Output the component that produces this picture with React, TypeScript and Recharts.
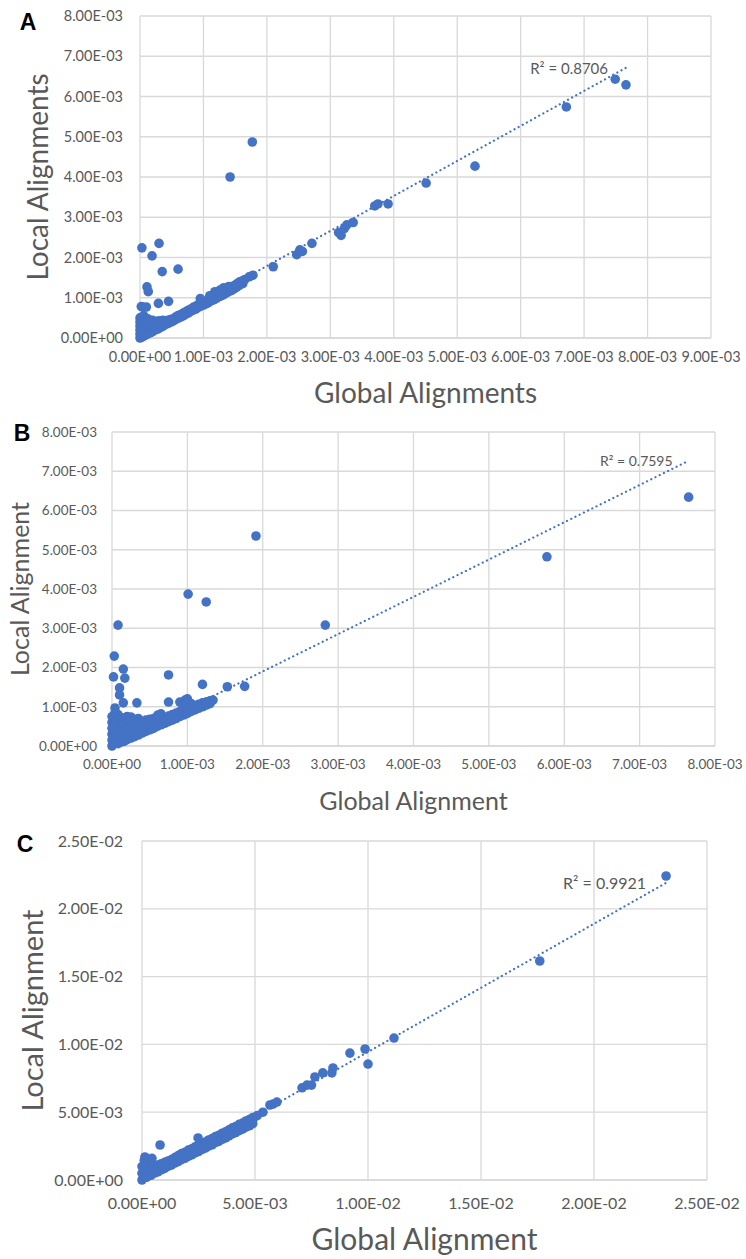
import React from 'react';
import {
  ScatterChart,
  Scatter,
  XAxis,
  YAxis,
  CartesianGrid,
  ReferenceLine,
  ReferenceDot,
  Label,
} from 'recharts';

// All values below are stored in units of 1e-3 and scaled when the chart table is built.
const MILLI = 1e-3;
const BLUE = '#4472C4';
const GRID = '#D9D9D9';
const INK = '#595959';
const FONT = 'Lato, "Open Sans", sans-serif';

type Pt = [number, number];

// ---------- Panel A ----------
const xTicksA = [0, 1, 2, 3, 4, 5, 6, 7, 8, 9];
const yTicksA = [0, 1, 2, 3, 4, 5, 6, 7, 8];
const clusterA: Pt[] = [
  [0, 0], [0, 0.1], [0, 0.2], [0, 0.3], [0, 0.4], [0, 0.5],
  [0.03, 0.02], [0.03, 0.12], [0.03, 0.22], [0.03, 0.32], [0.03, 0.42], [0.03, 0.52],
  [0.06, 0.05], [0.06, 0.15], [0.06, 0.25], [0.06, 0.35], [0.06, 0.45], [0.06, 0.55],
  [0.09, 0.08], [0.09, 0.18], [0.09, 0.28], [0.09, 0.38], [0.09, 0.48],
  [0.12, 0.1], [0.12, 0.2], [0.12, 0.3], [0.12, 0.4], [0.12, 0.48],
  [0.16, 0.13], [0.16, 0.23], [0.16, 0.33], [0.16, 0.42],
  [0.2, 0.16], [0.2, 0.26], [0.2, 0.36], [0.2, 0.44],
  [0.24, 0.2], [0.24, 0.3], [0.24, 0.4],
  [0.28, 0.22], [0.28, 0.32], [0.28, 0.42],
  [0.32, 0.26], [0.32, 0.35], [0.32, 0.43],
  [0.36, 0.29], [0.36, 0.38], [0.36, 0.44],
  [0.4, 0.33], [0.4, 0.42],
  [0.44, 0.36], [0.44, 0.44],
  [0.48, 0.39], [0.48, 0.46],
  [0.52, 0.42], [0.52, 0.48],
  [0.56, 0.46], [0.56, 0.52],
  [0.6, 0.49], [0.6, 0.56],
  [0.64, 0.52], [0.64, 0.58],
  [0.68, 0.55], [0.68, 0.62],
  [0.72, 0.59], [0.72, 0.65],
  [0.76, 0.62], [0.76, 0.69],
  [0.8, 0.66], [0.8, 0.72],
  [0.84, 0.69], [0.84, 0.76],
  [0.88, 0.72], [0.88, 0.79],
  [0.92, 0.76], [0.92, 0.83],
  [0.96, 0.79], [0.96, 0.86],
  [1.0, 0.82], [1.0, 0.9],
  [1.04, 0.85], [1.04, 0.92],
  [1.08, 0.88], [1.08, 0.96],
  [1.12, 0.92], [1.12, 1.0],
  [1.16, 0.95], [1.16, 1.04],
  [1.2, 0.98], [1.2, 1.07],
  [1.24, 1.02], [1.24, 1.12],
  [1.28, 1.05], [1.28, 1.14],
  [1.32, 1.08], [1.32, 1.18],
  [1.36, 1.12], [1.36, 1.2],
  [1.4, 1.15], [1.4, 1.24],
  [1.44, 1.18], [1.44, 1.27],
  [1.48, 1.22], [1.48, 1.3],
  [1.52, 1.26], [1.52, 1.34],
  [1.56, 1.3], [1.56, 1.38],
  [1.62, 1.35], [1.62, 1.42],
];
const diagonalA: Pt[] = [
  [0.95, 0.98], [1.1, 1.05], [1.18, 1.15], [1.26, 1.19], [1.32, 1.25], [1.4, 1.28],
  [1.45, 1.22], [1.58, 1.4], [1.65, 1.45], [1.72, 1.52], [1.78, 1.56], [2.1, 1.77],
  [2.47, 2.07], [2.52, 2.19], [2.56, 2.15], [2.71, 2.35], [3.13, 2.62], [3.17, 2.55],
  [3.22, 2.72], [3.26, 2.81], [3.36, 2.87], [3.7, 3.28], [3.75, 3.33], [3.91, 3.33],
  [4.51, 3.85], [5.28, 4.27], [6.72, 5.74], [7.49, 6.43], [7.66, 6.29],
];
const outliersA: Pt[] = [
  [1.42, 4.0], [1.77, 4.87], [0.03, 2.24], [0.3, 2.35], [0.19, 2.04], [0.35, 1.65],
  [0.6, 1.71], [0.11, 1.27], [0.13, 1.15], [0.29, 0.86], [0.45, 0.91], [0.02, 0.78],
  [0.06, 0.76], [0.1, 0.77],
];
const trendA = { slope: 0.87, intercept: 0.05 };
const r2A = 'R² = 0.8706';

// ---------- Panel B ----------
const xTicksB = [0, 1, 2, 3, 4, 5, 6, 7, 8];
const yTicksB = [0, 1, 2, 3, 4, 5, 6, 7, 8];
const clusterB: Pt[] = [
  [0, 0], [0, 0.15], [0, 0.3], [0, 0.45], [0, 0.6], [0, 0.75],
  [0.04, 0.08], [0.04, 0.22], [0.04, 0.38], [0.04, 0.52], [0.04, 0.68], [0.04, 0.85],
  [0.08, 0.06], [0.08, 0.2], [0.08, 0.35], [0.08, 0.5], [0.08, 0.65], [0.08, 0.8],
  [0.12, 0.1], [0.12, 0.25], [0.12, 0.4], [0.12, 0.55], [0.12, 0.7],
  [0.16, 0.12], [0.16, 0.27], [0.16, 0.42], [0.16, 0.57], [0.16, 0.72],
  [0.2, 0.16], [0.2, 0.3], [0.2, 0.45], [0.2, 0.6], [0.2, 0.75],
  [0.25, 0.2], [0.25, 0.35], [0.25, 0.5], [0.25, 0.65], [0.25, 0.74],
  [0.3, 0.24], [0.3, 0.39], [0.3, 0.54], [0.3, 0.68],
  [0.35, 0.28], [0.35, 0.43], [0.35, 0.58], [0.35, 0.7],
  [0.4, 0.33], [0.4, 0.48], [0.4, 0.62],
  [0.45, 0.37], [0.45, 0.52], [0.45, 0.66],
  [0.5, 0.41], [0.5, 0.56], [0.5, 0.68],
  [0.55, 0.45], [0.55, 0.6], [0.55, 0.7],
  [0.6, 0.5], [0.6, 0.63], [0.6, 0.75],
  [0.65, 0.54], [0.65, 0.68], [0.65, 0.82],
  [0.7, 0.58], [0.7, 0.72],
  [0.75, 0.62], [0.75, 0.76],
  [0.8, 0.66], [0.8, 0.8],
  [0.85, 0.7], [0.85, 0.84],
  [0.9, 0.75], [0.9, 0.88],
  [0.95, 0.79], [0.95, 0.92], [0.95, 1.02],
  [1.0, 0.83], [1.0, 0.96],
  [1.05, 0.88], [1.05, 1.0], [1.05, 1.08],
  [1.1, 0.92], [1.1, 1.03],
  [1.15, 0.96], [1.15, 1.06],
  [1.2, 1.0], [1.2, 1.1],
  [1.25, 1.04], [1.25, 1.12],
  [1.3, 1.08], [1.3, 1.15],
];
const diagonalB: Pt[] = [
  [0.75, 1.12], [0.9, 1.12], [0.97, 1.17], [1.0, 1.2], [1.13, 1.0], [1.2, 1.57],
  [1.26, 1.12], [1.34, 1.17], [1.53, 1.51], [1.76, 1.52], [2.83, 3.08], [5.77, 4.82],
  [7.65, 6.34],
];
const outliersB: Pt[] = [
  [1.01, 3.87], [1.25, 3.67], [1.91, 5.35], [0.08, 3.08], [0.03, 2.29], [0.02, 1.76],
  [0.15, 1.96], [0.17, 1.73], [0.1, 1.48], [0.1, 1.3], [0.75, 1.81], [0.33, 1.1],
  [0.15, 1.1], [0.04, 0.97], [0.61, 0.79],
];
const trendB = { slope: 0.95, intercept: 0 };
const r2B = 'R² = 0.7595';

// ---------- Panel C ----------
const xTicksC = [0, 5, 10, 15, 20, 25];
const yTicksC = [0, 5, 10, 15, 20, 25];
const clusterC: Pt[] = [
  [0, 0], [0, 0.5], [0, 1.0], [0.1, 0.35], [0.1, 0.85], [0.1, 1.45],
  [0.2, 0.2], [0.2, 0.7], [0.2, 1.2], [0.4, 0.35], [0.4, 0.9], [0.4, 1.4],
  [0.55, 0.5], [0.55, 1.0], [0.7, 0.6], [0.7, 1.1], [0.85, 0.75], [0.85, 1.2],
  [1.0, 0.85], [1.0, 1.3], [1.15, 1.0], [1.15, 1.4], [1.3, 1.1], [1.3, 1.5],
  [1.45, 1.25], [1.45, 1.65], [1.6, 1.35], [1.6, 1.8], [1.75, 1.5], [1.75, 1.95],
  [1.9, 1.6], [1.9, 2.05], [2.05, 1.75], [2.05, 2.2], [2.2, 1.85], [2.2, 2.3],
  [2.35, 2.0], [2.35, 2.45], [2.5, 2.1], [2.5, 2.55], [2.65, 2.25], [2.65, 2.7],
  [2.8, 2.35], [2.8, 2.8], [2.95, 2.5], [2.95, 2.95], [3.1, 2.6], [3.1, 3.05],
  [3.25, 2.75], [3.25, 3.2], [3.4, 2.85], [3.4, 3.3], [3.55, 3.0], [3.55, 3.45],
  [3.7, 3.1], [3.7, 3.55], [3.85, 3.25], [3.85, 3.7], [4.0, 3.4], [4.0, 3.85],
  [4.15, 3.5], [4.15, 3.95], [4.3, 3.65], [4.3, 4.1], [4.45, 3.75], [4.45, 4.2],
  [4.6, 3.9], [4.6, 4.35], [4.75, 4.0], [4.75, 4.45], [4.9, 4.15], [4.9, 4.6],
  [5.1, 4.75],
];
const diagonalC: Pt[] = [
  [4.9, 4.42], [5.35, 5.0], [5.66, 5.53], [5.8, 5.6], [5.97, 5.75], [7.08, 6.8], [7.3, 7.0],
  [7.5, 7.0], [7.65, 7.6], [8.0, 7.9], [8.4, 7.9], [8.45, 8.26], [9.2, 9.36], [9.87, 9.66],
  [10.0, 8.55], [11.15, 10.47], [17.6, 16.15], [23.19, 22.42],
];
const outliersC: Pt[] = [
  [0.8, 2.58], [2.48, 3.1], [0.13, 1.7], [0.44, 1.6],
];
const trendC = { slope: 0.945, intercept: 0 };
const r2C = 'R² = 0.9921';

// Excel-style scientific notation: 0.00E+00, 1.00E-03 ...
function sci(v: number): string {
  if (v === 0) return '0.00E+00';
  let exp = Math.floor(Math.log10(Math.abs(v)) + 1e-9);
  let mant = v / Math.pow(10, exp);
  if (Math.abs(mant) >= 9.995) {
    exp += 1;
    mant /= 10;
  }
  const sign = exp < 0 ? '-' : '+';
  return `${mant.toFixed(2)}E${sign}${String(Math.abs(exp)).padStart(2, '0')}`;
}

type PanelSpec = {
  letter: string;
  letterPos: [number, number];
  top: number;
  height: number;
  plot: { left: number; top: number; right: number; bottom: number };
  xTicks: number[];
  yTicks: number[];
  points: Pt[];
  trend: { slope: number; intercept: number };
  r2: string;
  r2Size: number;
  r2Gap: number;
  xTitle: string;
  yTitle: string;
  xTitleY: number;
  yTitleX: number;
  xTitleSize: number;
  yTitleSize: number;
  tickFont: number;
  yTickGap: number;
  xTickGap: number;
};

const Dot = (props: any) => {
  const { cx, cy } = props;
  if (cx == null || cy == null) return null;
  return <circle cx={cx} cy={cy} r={4.8} fill={BLUE} />;
};

function Panel({ s }: { s: PanelSpec }) {
  const data = s.points.map(([x, y]) => ({ x: x * MILLI, y: y * MILLI }));
  const xs = s.points.map((p) => p[0]);
  const x0 = Math.min(...xs);
  const x1 = Math.max(...xs);
  const seg = [
    { x: x0 * MILLI, y: (s.trend.slope * x0 + s.trend.intercept) * MILLI },
    { x: x1 * MILLI, y: (s.trend.slope * x1 + s.trend.intercept) * MILLI },
  ];
  const xT = s.xTicks.map((t) => t * MILLI);
  const yT = s.yTicks.map((t) => t * MILLI);
  const xMax = xT[xT.length - 1];
  const yMax = yT[yT.length - 1];
  const cxTitle = (s.plot.left + s.plot.right) / 2;
  const cyTitle = (s.plot.top + s.plot.bottom) / 2 - s.top;
  const tickStyle = { fill: INK, fontSize: s.tickFont, fontFamily: FONT };

  return (
    <div style={{ position: 'absolute', left: 0, top: s.top, width: 746, height: s.height }}>
      <ScatterChart
        width={746}
        height={s.height}
        margin={{ top: s.plot.top - s.top, right: 746 - s.plot.right, left: 0, bottom: 0 }}
      >
        <CartesianGrid stroke={GRID} strokeWidth={1.3} />
        <XAxis
          type="number"
          dataKey="x"
          domain={[0, xMax]}
          ticks={xT}
          interval={0}
          tickFormatter={sci}
          height={s.top + s.height - s.plot.bottom}
          axisLine={{ stroke: GRID, strokeWidth: 1.3 }}
          tickLine={false}
          tickSize={0}
          tickMargin={s.xTickGap}
          tick={tickStyle}
        >
          <Label
            content={() => (
              <text
                x={cxTitle}
                y={s.xTitleY - s.top}
                textAnchor="middle"
                dominantBaseline="central"
                fill={INK}
                fontSize={s.xTitleSize}
                fontFamily={FONT}
              >
                {s.xTitle}
              </text>
            )}
          />
        </XAxis>
        <YAxis
          type="number"
          dataKey="y"
          domain={[0, yMax]}
          ticks={yT}
          interval={0}
          tickFormatter={sci}
          width={s.plot.left}
          axisLine={false}
          tickLine={false}
          tickSize={0}
          tickMargin={s.yTickGap}
          tick={tickStyle}
        >
          <Label
            content={() => (
              <text
                x={s.yTitleX}
                y={cyTitle}
                transform={`rotate(-90 ${s.yTitleX} ${cyTitle})`}
                textAnchor="middle"
                dominantBaseline="central"
                fill={INK}
                fontSize={s.yTitleSize}
                fontFamily={FONT}
              >
                {s.yTitle}
              </text>
            )}
          />
        </YAxis>
        <Scatter data={data} fill={BLUE} shape={Dot} isAnimationActive={false} />
        <ReferenceLine
          segment={seg}
          stroke={BLUE}
          strokeWidth={2.2}
          strokeDasharray="0.1 4.6"
          strokeLinecap="round"
        />
        <ReferenceDot
          x={seg[1].x}
          y={seg[1].y}
          r={0}
          fill="none"
          stroke="none"
          label={{
            content: (p: any) => {
              const vb = p.viewBox || { x: 0, y: 0, width: 0, height: 0 };
              const x = vb.x + (vb.width || 0) / 2 - s.r2Gap;
              const y = vb.y + (vb.height || 0) / 2;
              return (
                <text
                  x={x}
                  y={y}
                  textAnchor="end"
                  dominantBaseline="central"
                  fill={INK}
                  fontSize={s.r2Size}
                  fontFamily={FONT}
                >
                  {s.r2}
                </text>
              );
            },
          }}
        />
      </ScatterChart>
      <div
        style={{
          position: 'absolute',
          left: s.letterPos[0],
          top: s.letterPos[1] - s.top,
          transform: 'translate(-50%, -50%)',
          fontFamily: '"Liberation Sans", Arial, sans-serif',
          fontWeight: 'bold',
          fontSize: 23,
          lineHeight: 1,
          color: '#000',
        }}
      >
        {s.letter}
      </div>
    </div>
  );
}

const panelA: PanelSpec = {
  letter: 'A',
  letterPos: [28, 22],
  top: 0,
  height: 410,
  plot: { left: 140, top: 16, right: 711, bottom: 338 },
  xTicks: xTicksA,
  yTicks: yTicksA,
  points: [...clusterA, ...diagonalA, ...outliersA],
  trend: trendA,
  r2: r2A,
  r2Size: 15,
  r2Gap: 18,
  xTitle: 'Global Alignments',
  yTitle: 'Local Alignments',
  xTitleY: 392,
  yTitleX: 37,
  xTitleSize: 28,
  yTitleSize: 28,
  tickFont: 14.5,
  yTickGap: 17,
  xTickGap: 14,
};

const panelB: PanelSpec = {
  letter: 'B',
  letterPos: [22, 433],
  top: 410,
  height: 410,
  plot: { left: 112, top: 432, right: 715, bottom: 746 },
  xTicks: xTicksB,
  yTicks: yTicksB,
  points: [...clusterB, ...diagonalB, ...outliersB],
  trend: trendB,
  r2: r2B,
  r2Size: 14,
  r2Gap: 16,
  xTitle: 'Global Alignment',
  yTitle: 'Local Alignment',
  xTitleY: 800,
  yTitleX: 19,
  xTitleSize: 25,
  yTitleSize: 25,
  tickFont: 13.5,
  yTickGap: 15,
  xTickGap: 13,
};

const panelC: PanelSpec = {
  letter: 'C',
  letterPos: [25, 844],
  top: 820,
  height: 439,
  plot: { left: 142, top: 841, right: 707, bottom: 1180 },
  xTicks: xTicksC,
  yTicks: yTicksC,
  points: [...clusterC, ...diagonalC, ...outliersC],
  trend: trendC,
  r2: r2C,
  r2Size: 16,
  r2Gap: 20,
  xTitle: 'Global Alignment',
  yTitle: 'Local Alignment',
  xTitleY: 1238,
  yTitleX: 31,
  xTitleSize: 30,
  yTitleSize: 29,
  tickFont: 16,
  yTickGap: 19,
  xTickGap: 18,
};

export default function App() {
  return (
    <div
      style={{
        position: 'absolute',
        left: 0,
        top: 0,
        width: 746,
        height: 1259,
        background: '#fff',
        overflow: 'hidden',
      }}
    >
      <Panel s={panelA} />
      <Panel s={panelB} />
      <Panel s={panelC} />
    </div>
  );
}
